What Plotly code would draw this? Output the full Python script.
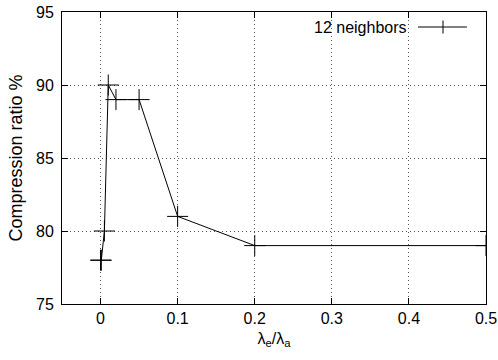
import plotly.graph_objects as go

ratio = [0, 0.001, 0.005, 0.01, 0.02, 0.05, 0.1, 0.2, 0.5]
compression = [78, 78, 80, 90, 89, 89, 81, 79, 79]
series_name = "12 neighbors"
x_ticks = [0, 0.1, 0.2, 0.3, 0.4, 0.5]
x_tick_labels = ["0", "0.1", "0.2", "0.3", "0.4", "0.5"]
y_ticks = [75, 80, 85, 90, 95]

font = "Liberation Sans, Arial, sans-serif"

fig = go.Figure()
fig.add_trace(go.Scatter(
    x=ratio, y=compression, mode="lines+markers", name=series_name,
    line=dict(color="black", width=1),
    marker=dict(symbol="cross-thin", size=15, line=dict(color="black", width=1), color="black"),
    showlegend=False,
))

axis_common = dict(
    showline=True, linecolor="black", linewidth=1, mirror="ticks",
    ticks="inside", ticklen=6, tickcolor="black", tickwidth=1,
    showgrid=True, gridcolor="#555555", griddash="1px,3px", gridwidth=1,
    zeroline=False, automargin=False,
    tickfont=dict(family=font, size=16, color="black"),
)

fig.update_xaxes(range=[-0.05, 0.5], tickvals=x_ticks, ticktext=x_tick_labels,
                 title=dict(text="λ<sub>e</sub>/λ<sub>a</sub>", font=dict(family=font, size=16, color="black"), standoff=6),
                 **axis_common)
fig.update_yaxes(range=[75, 95], tickvals=y_ticks, ticklabelstandoff=4,
                 title=dict(text="Compression ratio %", font=dict(family=font, size=18, color="black"), standoff=8),
                 **axis_common)

# gnuplot-style legend: text followed by sample
lx0, lx1, ly = 0.8396, 0.955, 0.9486
fig.add_annotation(xref="paper", yref="paper", x=0.818, y=ly, text=series_name,
                   showarrow=False, xanchor="right", yanchor="middle",
                   font=dict(family=font, size=16, color="black"))
fig.add_shape(type="line", xref="paper", yref="paper", x0=lx0, x1=lx1, y0=ly, y1=ly,
              line=dict(color="black", width=1))
xm = 0.8986
fig.add_shape(type="line", xref="paper", yref="paper", x0=xm, x1=xm, y0=ly - 0.0223, y1=ly + 0.0223,
              line=dict(color="black", width=1))

fig.update_layout(
    width=498, height=360,
    margin=dict(l=62, r=12, t=12, b=56),
    plot_bgcolor="white", paper_bgcolor="white",
    font=dict(family=font, size=16, color="black"),
)

fig.write_html("out.html", post_script="document.body.style.margin='0px';",
               config={"displayModeBar": False})
